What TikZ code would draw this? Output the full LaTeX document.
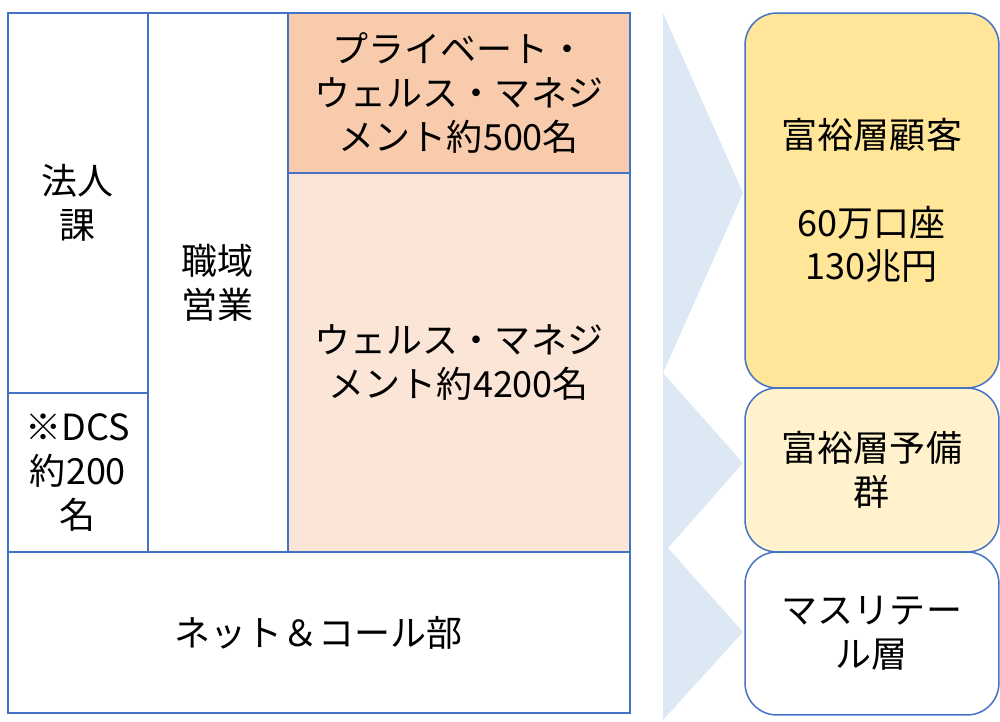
\documentclass[tikz,border=0pt]{standalone}
\usepackage{fontspec}
\setmainfont{Noto Sans CJK JP}
\definecolor{gridblue}{HTML}{4472C4}
\definecolor{chevblue}{HTML}{DDE8F5}
\definecolor{pwmfill}{HTML}{F8CBAD}
\definecolor{wmfill}{HTML}{FBE5D6}
\definecolor{richfill}{HTML}{FFE699}
\definecolor{prefill}{HTML}{FFF2CC}
\tikzset{
  cell/.style={draw=gridblue,line width=0.75pt,anchor=north west,inner sep=0pt,outer sep=0pt,
    align=center,font=\fontsize{20.5}{25}\selectfont},
  tier/.style={cell,rounded corners=0.64cm,line width=0.85pt}
}
\begin{document}
\begin{tikzpicture}[x=0.02cm,y=-0.02cm]
                        \useasboundingbox (0,0) rectangle (1000,721);
                        % chevrons
                        \fill[chevblue] (663,13)--(743,193)--(663,373)--cycle;
                        \fill[chevblue] (663,373)--(743,463)--(668,548)--(663,548)--cycle;
                        \fill[chevblue] (663,548)--(668,548)--(743,632)--(663,720)--cycle;
                        % left grid
                        \node[cell,minimum width=2.8cm,minimum height=7.6cm] (houjin) at (8,13) {法人\\課};
                        \node[cell,minimum width=2.8cm,minimum height=3.18cm] (dcs) at (8,393) {※DCS\\約200\\名};
                        \node[cell,minimum width=2.8cm,minimum height=10.78cm] (shokuiki) at (148,13) {職域\\営業};
                        \node[cell,fill=pwmfill,minimum width=6.84cm,minimum height=3.2cm] (pwm) at (288,13) {プライベート・\\ウェルス・マネジ\\メント約500名};
                        \node[cell,fill=wmfill,minimum width=6.84cm,minimum height=7.58cm] (wm) at (288,173) {ウェルス・マネジ\\メント約4200名};
                        \node[cell,minimum width=12.44cm,minimum height=3.22cm] (net) at (8,552) {ネット＆コール部};
                        % customer tiers
                        \node[tier,fill=richfill,minimum width=5.08cm,minimum height=7.5cm] (fuyuu) at (745,13) {富裕層顧客\\[25pt]60万口座\\130兆円};
                        \node[tier,fill=prefill,minimum width=5.08cm,minimum height=3.28cm] (yobi) at (745,388) {富裕層予備\\群};
                        \node[tier,fill=white,minimum width=5.08cm,minimum height=3.26cm] (mass) at (745,552) {マスリテー\\ル層};
                    \end{tikzpicture}
\end{document}
